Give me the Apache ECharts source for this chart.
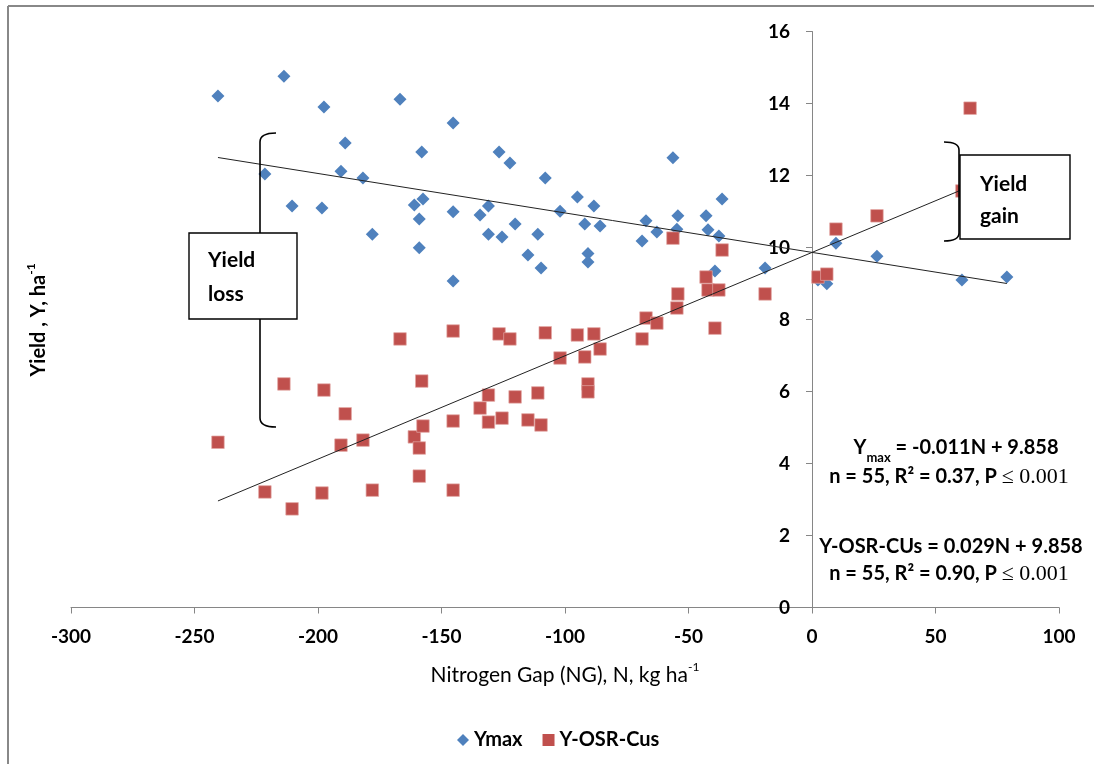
<!DOCTYPE html>
<html>
<head>
<meta charset="utf-8">
<script src="https://cdn.jsdelivr.net/npm/echarts@6/dist/echarts.min.js"></script>
<style>
  html, body { margin: 0; padding: 0; background: #fff; }
  #chart { width: 1094px; height: 764px; }
</style>
</head>
<body>
<div id="chart"></div>
<script>
// nitrogen gap (kg/ha) shared by both series
var nitrogenGap = [-240.5, -213.8, -221.5, -210.5, -197.6, -198.4, -189, -190.7, -181.8, -178,
  -166.8, -161, -158, -157.5, -159, -159, -145.3, -145.3, -145.3, -134.4,
  -131, -131, -126.7, -125.5, -122.3, -120.2, -115, -111, -109.7, -108,
  -102, -95, -92, -90.7, -90.7, -88.3, -85.8, -68.8, -67.2, -62.8,
  -56.3, -54.3, -54.7, -42.9, -42.1, -39.3, -37.7, -36.4, -19, 2.4,
  6, 9.7, 26.3, 60.7, 64];
var yMax = [14.21, 14.76, 12.04, 11.15, 13.90, 11.10, 12.90, 12.12, 11.93, 10.37,
  14.12, 11.18, 12.65, 11.35, 10.79, 9.99, 13.46, 10.99, 9.07, 10.90,
  11.15, 10.37, 12.65, 10.29, 12.35, 10.65, 9.79, 10.37, 9.43, 11.93,
  11.01, 11.40, 10.65, 9.83, 9.60, 11.15, 10.60, 10.18, 10.74, 10.43,
  12.49, 10.88, 10.51, 10.88, 10.49, 9.35, 10.32, 11.35, 9.43, 9.10,
  8.99, 10.12, 9.76, 9.10, 9.18];
var yOsrCus = [4.59, 6.21, 3.21, 2.74, 6.04, 3.18, 5.38, 4.51, 4.65, 3.26,
  7.46, 4.74, 6.29, 5.04, 4.43, 3.65, 7.68, 5.18, 3.26, 5.54,
  5.90, 5.15, 7.60, 5.26, 7.46, 5.85, 5.21, 5.96, 5.07, 7.63,
  6.93, 7.57, 6.96, 6.21, 5.99, 7.60, 7.18, 7.46, 8.04, 7.90,
  10.26, 8.71, 8.32, 9.18, 8.82, 7.76, 8.82, 9.93, 8.71, 9.18,
  9.26, 10.51, 10.88, 11.57, 13.87];
// last blue point sits at a larger gap than the last red one
var yMaxLastGap = 78.9;

// trend line end points as drawn
var fitYmaxX = [-240.5, 78.9];
var fitYmaxY = [12.50, 9.00];
var fitOsrX = [-240.5, 64];
var fitOsrY = [2.96, 11.70];

var xTicks = { min: -300, max: 100, step: 50 };
var yTicks = { min: 0, max: 16, step: 2 };

var blueColor = '#4F81BD';
var redColor = '#C0504D';
var font = 'Lato, "Open Sans", sans-serif';

function pairs(xs, ys) {
  var out = [];
  for (var i = 0; i < ys.length; i++) out.push([xs[i], ys[i]]);
  return out;
}

var bluePts = pairs(nitrogenGap, yMax);
bluePts[bluePts.length - 1][0] = yMaxLastGap;

var bracket = { stroke: '#000', lineWidth: 1.6, fill: null };

var gridLeft = 71, gridRight = 35;
var plotW = 1094 - gridLeft - gridRight;
// put the y axis where N = 0
var yAxisOffset = -plotW * (0 - xTicks.min) / (xTicks.max - xTicks.min);

var chart = echarts.init(document.getElementById('chart'));
chart.setOption({
  animation: false,
  backgroundColor: '#fff',
  grid: { left: gridLeft, right: gridRight, top: 31.5, bottom: 156.5 },
  legend: {
    data: [
      { name: 'Ymax', icon: 'diamond', itemStyle: { borderWidth: 0 } },
      { name: 'Y-OSR-Cus', icon: 'rect', itemStyle: { borderWidth: 0 } }
    ],
    left: 452,
    top: 725,
    itemWidth: 12,
    itemHeight: 12,
    itemGap: 20,
    textStyle: { fontFamily: font, fontWeight: 'bold', fontSize: 20, color: '#000' }
  },
  xAxis: {
    type: 'value',
    min: xTicks.min, max: xTicks.max, interval: xTicks.step,
    name: '{a|Nitrogen Gap (NG), N, kg ha}{s|-1}',
    nameLocation: 'middle',
    nameGap: 54,
    nameTextStyle: {
      rich: {
        a: { fontFamily: font, fontSize: 21, color: '#000', lineHeight: 24, verticalAlign: 'bottom' },
        s: { fontFamily: font, fontSize: 12, color: '#000', lineHeight: 24, verticalAlign: 'top' }
      }
    },
    axisLine: { onZero: false, lineStyle: { color: '#868686', width: 1 } },
    axisTick: { length: 6, lineStyle: { color: '#868686' } },
    axisLabel: { margin: 20, fontFamily: font, fontWeight: 'bold', fontSize: 19, color: '#000' },
    splitLine: { show: false }
  },
  yAxis: {
    type: 'value',
    position: 'left',
    offset: yAxisOffset,
    min: yTicks.min, max: yTicks.max, interval: yTicks.step,
    axisLine: { show: true, onZero: false, lineStyle: { color: '#868686', width: 1 } },
    axisTick: { show: true, length: 6, lineStyle: { color: '#868686' } },
    axisLabel: { margin: 22, fontFamily: font, fontWeight: 'bold', fontSize: 19, color: '#000' },
    splitLine: { show: false }
  },
  series: [
    {
      name: 'Ymax',
      type: 'scatter',
      symbol: 'diamond',
      symbolSize: 13,
      itemStyle: { color: blueColor, opacity: 1 },
      data: bluePts,
      z: 2
    },
    {
      name: 'Y-OSR-Cus',
      type: 'scatter',
      symbol: 'rect',
      symbolSize: 12.5,
      itemStyle: { color: redColor, opacity: 1, borderColor: '#e3a6a4', borderWidth: 0.7 },
      data: pairs(nitrogenGap, yOsrCus),
      z: 3
    },
    {
      name: 'fitYmax',
      type: 'line',
      symbol: 'none',
      lineStyle: { color: '#222', width: 1 },
      data: pairs(fitYmaxX, fitYmaxY),
      z: 4
    },
    {
      name: 'fitOsr',
      type: 'line',
      symbol: 'none',
      lineStyle: { color: '#222', width: 1 },
      data: pairs(fitOsrX, fitOsrY),
      z: 4
    }
  ],
  graphic: [
    // outer frame (top and left edges visible)
    { type: 'line', shape: { x1: 8, y1: 6, x2: 1094, y2: 6 }, style: { stroke: '#888', lineWidth: 2 }, z: 10 },
    { type: 'line', shape: { x1: 8, y1: 6, x2: 8, y2: 764 }, style: { stroke: '#888', lineWidth: 2 }, z: 10 },
    // y axis title
    {
      type: 'text', x: 37, y: 320, rotation: Math.PI / 2, z: 10,
      style: {
        text: '{a|Yield , Y, ha}{s|-1}',
        align: 'center', verticalAlign: 'middle',
        rich: {
          a: { fontFamily: font, fontWeight: 'bold', fontSize: 20, fill: '#000', lineHeight: 24, verticalAlign: 'bottom' },
          s: { fontFamily: font, fontWeight: 'bold', fontSize: 12, fill: '#000', lineHeight: 24, verticalAlign: 'top' }
        }
      }
    },
    // yield loss bracket and box
    { type: 'bezierCurve', z: 10, shape: { x1: 276, y1: 133, x2: 260, y2: 142, cpx1: 260, cpy1: 133 }, style: bracket },
    { type: 'line', z: 10, shape: { x1: 260, y1: 142, x2: 260, y2: 418 }, style: bracket },
    { type: 'bezierCurve', z: 10, shape: { x1: 260, y1: 418, x2: 276, y2: 427, cpx1: 260, cpy1: 427 }, style: bracket },
    {
      type: 'rect', z: 11,
      shape: { x: 189, y: 233, width: 108, height: 86 },
      style: { fill: '#fff', stroke: '#000', lineWidth: 1.4 }
    },
    {
      type: 'text', x: 208, y: 260, z: 12,
      style: { text: 'Yield', fontFamily: font, fontWeight: 'bold', fontSize: 21, fill: '#000', verticalAlign: 'middle' }
    },
    {
      type: 'text', x: 208, y: 294, z: 12,
      style: { text: 'loss', fontFamily: font, fontWeight: 'bold', fontSize: 21, fill: '#000', verticalAlign: 'middle' }
    },
    // yield gain bracket and box
    { type: 'bezierCurve', z: 10, shape: { x1: 944, y1: 142, x2: 959, y2: 150, cpx1: 959, cpy1: 142 }, style: bracket },
    { type: 'line', z: 10, shape: { x1: 959, y1: 150, x2: 959, y2: 233 }, style: bracket },
    { type: 'bezierCurve', z: 10, shape: { x1: 959, y1: 233, x2: 944, y2: 241, cpx1: 959, cpy1: 241 }, style: bracket },
    {
      type: 'rect', z: 11,
      shape: { x: 960, y: 155, width: 110, height: 84 },
      style: { fill: '#fff', stroke: '#000', lineWidth: 1.4 }
    },
    {
      type: 'text', x: 980, y: 184, z: 12,
      style: { text: 'Yield', fontFamily: font, fontWeight: 'bold', fontSize: 21, fill: '#000', verticalAlign: 'middle' }
    },
    {
      type: 'text', x: 980, y: 216, z: 12,
      style: { text: 'gain', fontFamily: font, fontWeight: 'bold', fontSize: 21, fill: '#000', verticalAlign: 'middle' }
    },
    // regression equations
    {
      type: 'text', x: 956, y: 451, z: 12,
      style: {
        text: '{a|Y}{sub|max}{a| = -0.011N + 9.858}',
        align: 'center', verticalAlign: 'middle',
        rich: {
          a: { fontFamily: font, fontWeight: 'bold', fontSize: 20, fill: '#000', lineHeight: 26, verticalAlign: 'top' },
          sub: { fontFamily: font, fontWeight: 'bold', fontSize: 13, fill: '#000', lineHeight: 26, verticalAlign: 'bottom' }
        }
      }
    },
    {
      type: 'text', x: 949, y: 477, z: 12,
      style: {
        text: '{a|n = 55, R² = 0.37, P }{m|≤ 0.001}',
        align: 'center', verticalAlign: 'middle',
        rich: {
          a: { fontFamily: font, fontWeight: 'bold', fontSize: 20, fill: '#000' },
          m: { fontFamily: '"Liberation Serif", serif', fontSize: 22, fill: '#000' }
        }
      }
    },
    {
      type: 'text', x: 951, y: 547, z: 12,
      style: { text: 'Y-OSR-CUs = 0.029N + 9.858', align: 'center', verticalAlign: 'middle',
        fontFamily: font, fontWeight: 'bold', fontSize: 20, fill: '#000' }
    },
    {
      type: 'text', x: 949, y: 574, z: 12,
      style: {
        text: '{a|n = 55, R² = 0.90, P }{m|≤ 0.001}',
        align: 'center', verticalAlign: 'middle',
        rich: {
          a: { fontFamily: font, fontWeight: 'bold', fontSize: 20, fill: '#000' },
          m: { fontFamily: '"Liberation Serif", serif', fontSize: 22, fill: '#000' }
        }
      }
    }
  ]
});
</script>
</body>
</html>
